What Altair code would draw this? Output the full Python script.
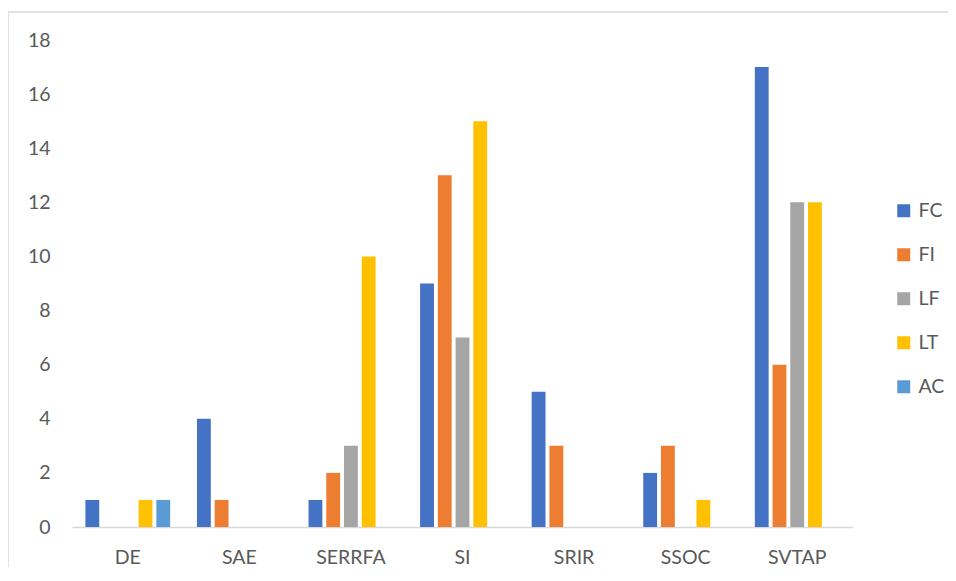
import altair as alt
import pandas as pd

categories = ["DE", "SAE", "SERRFA", "SI", "SRIR", "SSOC", "SVTAP"]
series = ["FC", "FI", "LF", "LT", "AC"]
colors = ["#4472C4", "#ED7D31", "#A5A5A5", "#FFC000", "#5B9BD5"]
FC = [1, 4, 1, 9, 5, 2, 17]
FI = [0, 1, 2, 13, 3, 3, 6]
LF = [0, 0, 3, 7, 0, 0, 12]
LT = [1, 0, 10, 15, 0, 1, 12]
AC = [1, 0, 0, 0, 0, 0, 0]
y_ticks = [0, 2, 4, 6, 8, 10, 12, 14, 16, 18]

vals = {"FC": FC, "FI": FI, "LF": LF, "LT": LT, "AC": AC}
rows = []
for s in series:
    for c, v in zip(categories, vals[s]):
        rows.append({"cat": c, "series": s, "value": v})
df = pd.DataFrame(rows)

W, H = 781, 487
FONT = "Lato"
FS = 19.5

bars = alt.Chart(df).mark_bar().encode(
    x=alt.X("cat:N", sort=categories, title=None,
            scale=alt.Scale(paddingInner=0.24, paddingOuter=0.12),
            axis=alt.Axis(labelAngle=0, ticks=False, domainColor="#D9D9D9", domainWidth=1.5,
                          labelPadding=21, labelFontSize=FS, labelColor="#595959", labelFont=FONT)),
    xOffset=alt.XOffset("series:N", sort=series, scale=alt.Scale(domain=series, paddingInner=0.22)),
    y=alt.Y("value:Q", title=None,
            scale=alt.Scale(domain=[0, 18]),
            axis=alt.Axis(values=y_ticks, grid=False, domain=False, ticks=False, labelPadding=22,
                          labelFontSize=FS, labelColor="#595959", labelFont=FONT)),
    color=alt.Color("series:N", sort=series,
                    scale=alt.Scale(domain=series, range=colors),
                    legend=alt.Legend(title=None, orient="none", legendX=822, legendY=161,
                                      symbolType="square", symbolSize=169, symbolStrokeWidth=0,
                                      rowPadding=23, labelFontSize=FS, labelColor="#595959",
                                      labelFont=FONT, labelOffset=5)),
)

one = pd.DataFrame({"a": [0]})
top_line = alt.Chart(one).mark_rule(stroke="#D9D9D9", strokeWidth=1.5, clip=False).encode(
    x=alt.value(-64), x2=alt.value(W + 120), y=alt.value(-28))
left_line = alt.Chart(one).mark_rule(stroke="#D9D9D9", strokeWidth=1.5, clip=False).encode(
    x=alt.value(-64), y=alt.value(-28), y2=alt.value(H + 80))

chart = alt.layer(top_line, left_line, bars).properties(
    width=W, height=H,
    padding={"left": 64, "top": 32, "right": 95, "bottom": 40},
    autosize=alt.AutoSizeParams(type="none"),
).configure_view(stroke=None)

chart.save("out.html", embed_options={"renderer": "svg", "actions": False})
